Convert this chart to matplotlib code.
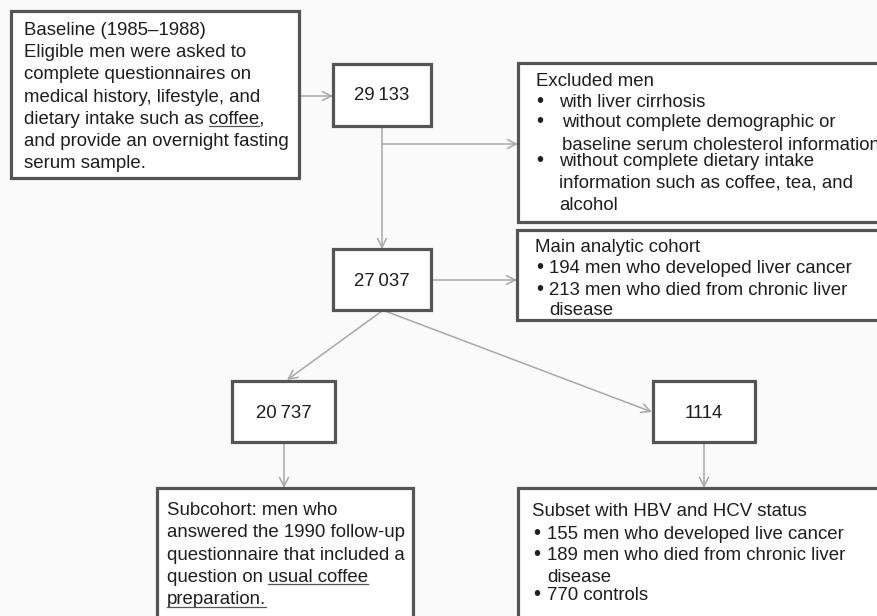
import matplotlib
matplotlib.use("Agg")
import matplotlib.pyplot as plt
from matplotlib.patches import Rectangle

plt.rcParams['font.family'] = ['Liberation Sans', 'DejaVu Sans']

# ---- content ----
counts = [29133, 27037, 20737, 1114]
baseline_lines = ["Baseline (1985\u20131988)",
                  "Eligible men were asked to",
                  "complete questionnaires on",
                  "medical history, lifestyle, and",
                  "dietary intake such as coffee,",
                  "and provide an overnight fasting",
                  "serum sample."]
excluded_title = "Excluded men"
excluded_items = [["with liver cirrhosis"],
                  ["without complete demographic or", "baseline serum cholesterol information"],
                  ["without complete dietary intake", "information such as coffee, tea, and", "alcohol"]]
main_title = "Main analytic cohort"
main_items = [["194 men who developed liver cancer"],
              ["213 men who died from chronic liver", "disease"]]
sub_lines = ["Subcohort: men who",
             "answered the 1990 follow-up",
             "questionnaire that included a",
             "question on usual coffee",
             "preparation."]
hbv_title = "Subset with HBV and HCV status"
hbv_items = [["155 men who developed live cancer"],
             ["189 men who died from chronic liver", "disease"],
             ["770 controls"]]

def fmt(n):
    s = f"{n:,}"
    return s.replace(",", "\u2009") if n >= 10000 else str(n)

# ---- figure ----
W, H = 877, 616
fig = plt.figure(figsize=(W / 100, H / 100), dpi=100)
fig.patch.set_facecolor('#fafafa')
ax = fig.add_axes([0, 0, 1, 1])
ax.set_xlim(0, W)
ax.set_ylim(H, 0)
ax.axis('off')

BOX_EC = '#555555'
ARROW_C = '#a8a8a8'
TXT_C = '#1e1e1e'
FS = 13.45

def box(x0, y0, x1, y1):
    ax.add_patch(Rectangle((x0, y0), x1 - x0, y1 - y0, facecolor='white',
                           edgecolor=BOX_EC, lw=2.3, zorder=2, clip_on=False))

def txt(x, y, s, **kw):
    return ax.text(x, y, s, fontsize=FS, color=TXT_C, va='baseline', ha='left', zorder=3, **kw)

def bullet(x, y):
    ax.text(x, y, "\u2022", fontsize=FS * 1.1, color=TXT_C, ha='center', va='baseline', zorder=3)

def arrow(x0, y0, x1, y1):
    ax.annotate('', xy=(x1, y1), xytext=(x0, y0),
                arrowprops=dict(arrowstyle='->', color=ARROW_C, lw=1.1,
                                mutation_scale=16, shrinkA=0, shrinkB=0), zorder=1)

# boxes
box(11, 11, 299, 178)          # baseline
box(333, 64, 431, 126)         # 29133
box(518, 63, 895, 222)         # excluded
box(333, 249, 431, 310)        # 27037
box(517, 230, 895, 320)        # main analytic
box(232, 381, 335, 442)        # 20737
box(653, 381, 755, 442)        # 1114
box(157, 488, 413, 640)        # subcohort
box(518, 488, 895, 640)        # HBV

# arrows
arrow(299, 96, 333, 96)
arrow(382, 126, 382, 249)
arrow(382, 144, 518, 144)
arrow(431, 280, 517, 280)
arrow(382, 311, 287, 380)
arrow(385, 311, 652, 412)
arrow(284, 442, 284, 488)
arrow(704, 442, 704, 488)

# numbers
num_pos = [(382, 95), (382, 282), (283.5, 414), (704, 414)]
for n, (x, y) in zip(counts, num_pos):
    ax.text(x, y, fmt(n), fontsize=FS, color=TXT_C, ha='center', va='center', zorder=3)

# baseline text
for i, s in enumerate(baseline_lines):
    txt(24, 35 + 22.2 * i, s)

# excluded box
txt(536, 86, excluded_title)
ex_base = [[107], [127, 150], [166, 188, 210]]
ex_x = [[559], [562, 562], [559, 559, 559]]
for item, ys, xs in zip(excluded_items, ex_base, ex_x):
    bullet(540, ys[0])
    for s, y, x in zip(item, ys, xs):
        txt(x, y, s)

# main analytic
txt(535, 252, main_title)
m_base = [[273], [295, 315]]
for item, ys in zip(main_items, m_base):
    bullet(540, ys[0])
    for s, y in zip(item, ys):
        txt(549, y, s)

# subcohort
for i, s in enumerate(sub_lines):
    txt(167, 515 + 22.3 * i, s)

# HBV
txt(532, 516, hbv_title)
h_base = [[539], [560, 582], [600]]
for item, ys in zip(hbv_items, h_base):
    bullet(537, ys[0])
    for s, y in zip(item, ys):
        txt(547, y, s)

# underlines
fig.canvas.draw()
renderer = fig.canvas.get_renderer()

def text_width(s):
    t = ax.text(0, 0, s, fontsize=FS)
    bb = t.get_window_extent(renderer)
    t.remove()
    return bb.width

def underline(x, y, line, word):
    i = line.index(word)
    pre = line[:i]
    w_pre = text_width(pre + "|") - text_width("|") if pre else 0
    w_word = text_width(word)
    ax.plot([x + w_pre, x + w_pre + w_word], [y + 2.5, y + 2.5], color='#555555', lw=0.9, zorder=3)

underline(24, 35 + 22.2 * 4, baseline_lines[4], "coffee")
underline(167, 515 + 22.3 * 3, sub_lines[3], "usual coffee")
underline(167, 515 + 22.3 * 4, sub_lines[4], "preparation.")

fig.savefig("out.png", dpi=100, facecolor=fig.get_facecolor())
